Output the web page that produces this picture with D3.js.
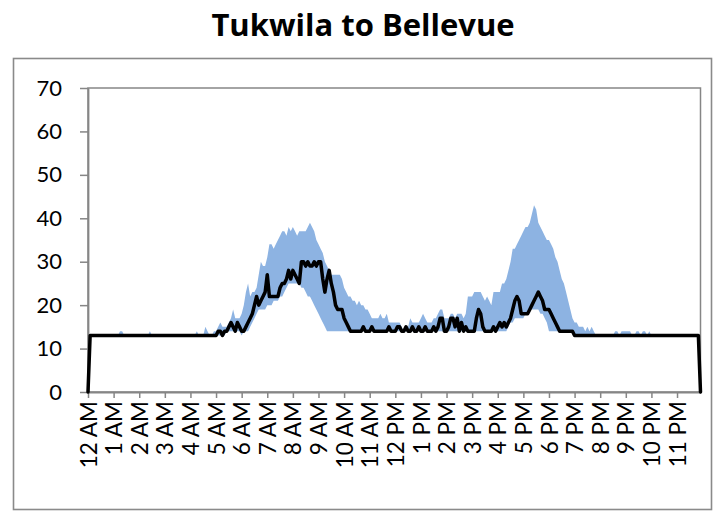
<!DOCTYPE html>
<html>
<head>
<meta charset="utf-8">
<script src="https://cdn.jsdelivr.net/npm/d3@7"></script>
<style>
  html, body { margin: 0; padding: 0; background: #fff; }
  svg { display: block; }
</style>
</head>
<body>
<svg id="chart" width="714" height="512"></svg>
<script>
// Travel time, Tukwila to Bellevue, in 5-minute steps (12 per row = one hour)
const avgTravel = [
  0,13,13,13,13,13,13,13,13,13,13,13,   // 12 AM
  13,13,13,13,13,13,13,13,13,13,13,13,  // 1 AM
  13,13,13,13,13,13,13,13,13,13,13,13,  // 2 AM
  13,13,13,13,13,13,13,13,13,13,13,13,  // 3 AM
  13,13,13,13,13,13,13,13,13,13,13,13,  // 4 AM
  13,14,14,13,14,14,15,16,15,14,16,15,  // 5 AM
  14,14,15,16,17,18,20,22,20,21,22,23,  // 6 AM
  27,22,22,22,22,22,24,25,25,26,28,26,  // 7 AM
  28,27,26,25,30,30,29,30,29,29,30,29,  // 8 AM
  30,30,26,23,26,28,25,23,20,19,19,19,  // 9 AM
  17,16,15,14,14,14,14,14,14,15,14,14,  // 10 AM
  14,15,14,14,14,14,14,14,14,15,14,14,  // 11 AM
  14,15,15,14,14,15,14,14,15,14,14,15,  // 12 PM
  14,14,15,14,14,14,15,14,15,17,17,14,  // 1 PM
  14,15,17,17,15,17,14,16,14,15,14,14,  // 2 PM
  14,14,17,19,18,15,14,14,14,14,15,14,  // 3 PM
  15,16,15,16,15,16,17,19,21,22,21,18,  // 4 PM
  18,18,18,19,20,21,22,23,22,21,19,19,  // 5 PM
  19,18,17,16,15,14,14,14,14,14,14,14,  // 6 PM
  13,13,13,13,13,13,13,13,13,13,13,13,  // 7 PM
  13,13,13,13,13,13,13,13,13,13,13,13,  // 8 PM
  13,13,13,13,13,13,13,13,13,13,13,13,  // 9 PM
  13,13,13,13,13,13,13,13,13,13,13,13,  // 10 PM
  13,13,13,13,13,13,13,13,13,13,13,0    // 11 PM
];

const maxTravel = [
  0,13,13,13,13,13,13,13,13,13,13,13,
  13,13,13,14,14,13,13,13,13,13,13,13,
  13,13,13,13,13,14,13,13,13,13,13,13,
  13,13,13,13,13,13,13,13,13,13,13,13,
  13,13,13,14,13,13,13,15,14,13,13,14,
  14,15,16,15,15,15,16,17,19,17,17,17,
  18,20,23,25,22,23,23,24,27,30,29,29,
  31,34,34,33,34,35,36,37,37,36,38,37,
  38,37,36,37,37,37,37,38,39,38,37,35,
  34,33,32,30,29,28,27,27,27,27,27,26,
  24,23,22,22,21,21,20,21,20,20,19,19,
  18,17,17,17,17,18,17,17,18,16,16,16,
  16,16,16,15,14,15,15,17,16,16,16,16,
  17,18,17,16,16,16,17,17,18,19,19,17,
  17,17,18,18,17,18,18,18,17,18,22,22,
  22,23,23,23,23,22,21,22,21,20,23,23,
  23,23,25,25,26,28,30,33,33,34,35,36,
  37,38,38,39,41,43,42,39,38,37,36,35,
  35,34,33,31,30,28,26,25,23,21,19,17,
  16,16,15,15,15,14,15,14,15,14,13,13,
  13,13,13,13,13,13,13,14,14,13,14,14,
  14,14,14,13,13,14,14,13,14,14,13,14,
  13,13,13,13,13,13,13,13,13,13,13,13,
  13,13,13,13,13,13,13,13,13,13,13,0
];

const minTravel = [
  0,13,13,13,13,13,13,13,13,13,13,13,
  13,13,13,13,13,13,13,13,13,13,13,13,
  13,13,13,13,13,13,13,13,13,13,13,13,
  13,13,13,13,13,13,13,13,13,13,13,13,
  13,13,13,13,13,13,13,13,13,13,13,13,
  13,13,13,13,13,14,14,14,14,14,14,14,
  13,14,14,14,15,16,17,18,19,19,19,19,
  20,20,20,21,21,21,22,22,23,24,25,25,
  25,25,25,25,24,24,23,22,22,21,20,19,
  18,17,16,15,14,14,14,14,14,14,14,14,
  14,14,14,14,14,14,14,14,14,14,14,14,
  14,14,14,14,14,14,14,14,14,14,14,14,
  14,14,14,14,14,14,14,14,14,14,14,14,
  14,14,14,14,14,14,14,14,14,14,14,14,
  14,14,14,14,14,14,14,14,14,14,14,14,
  14,14,14,14,14,14,14,14,14,14,14,14,
  14,14,14,14,14,15,16,16,17,17,17,17,
  17,18,18,19,19,19,19,19,18,18,17,16,
  14,14,14,14,14,14,14,14,14,14,14,14,
  13,13,13,13,13,13,13,13,13,13,13,13,
  13,13,13,13,13,13,13,13,13,13,13,13,
  13,13,13,13,13,13,13,13,13,13,13,13,
  13,13,13,13,13,13,13,13,13,13,13,13,
  13,13,13,13,13,13,13,13,13,13,13,0
];

const hourLabels = [
  "12 AM","1 AM","2 AM","3 AM","4 AM","5 AM","6 AM","7 AM","8 AM","9 AM","10 AM","11 AM",
  "12 PM","1 PM","2 PM","3 PM","4 PM","5 PM","6 PM","7 PM","8 PM","9 PM","10 PM","11 PM"
];
const yTicks = [0, 10, 20, 30, 40, 50, 60, 70];
const chartTitle = "Tukwila to Bellevue";

const svg = d3.select("#chart");
const font = "Lato, 'Open Sans', sans-serif";
const gray = "#868686";

const plot = { left: 88, right: 700.5, top: 88, bottom: 392 };
const stepsPerHour = 12;
const n = avgTravel.length;

const x = d3.scaleLinear().domain([0, n - 1]).range([plot.left, plot.right]);
const y = d3.scaleLinear().domain([0, 70]).range([plot.bottom, plot.top]);

// outer chart frame
svg.append("rect")
  .attr("x", 13.5).attr("y", 58.5)
  .attr("width", 698).attr("height", 451)
  .attr("fill", "#fff")
  .attr("stroke", "#8a8a8a").attr("stroke-width", 1.6);

// title
svg.append("text")
  .attr("x", 363).attr("y", 36)
  .attr("text-anchor", "middle")
  .attr("font-family", "'Open Sans', Lato, sans-serif").attr("font-weight", 700)
  .attr("font-size", 31)
  .attr("fill", "#000")
  .text(chartTitle);

// plot frame (top and right edges)
svg.append("rect")
  .attr("x", plot.left).attr("y", plot.top)
  .attr("width", plot.right - plot.left).attr("height", plot.bottom - plot.top)
  .attr("fill", "none").attr("stroke", gray).attr("stroke-width", 1.5);

// min-max range band
const rows = avgTravel.map((v, i) => ({ i, avg: v, lo: minTravel[i], hi: maxTravel[i] }));
svg.append("path")
  .datum(rows)
  .attr("fill", "#8db3e2")
  .attr("d", d3.area().x(d => x(d.i)).y0(d => y(d.lo)).y1(d => y(d.hi)));

// y axis
const yAxis = svg.append("g")
  .attr("transform", `translate(${plot.left},0)`)
  .call(d3.axisLeft(y).tickValues(yTicks).tickSize(8).tickSizeOuter(0).tickPadding(18));
yAxis.select(".domain").attr("stroke", gray).attr("stroke-width", 1.8);
yAxis.selectAll(".tick line").attr("stroke", gray).attr("stroke-width", 1.5);
yAxis.selectAll(".tick text")
  .attr("font-family", font).attr("font-size", 22).attr("fill", "#000");

// x axis, one tick per hour
const xAxis = svg.append("g")
  .attr("transform", `translate(0,${plot.bottom})`)
  .call(d3.axisBottom(x)
    .tickValues(d3.range(0, n, stepsPerHour))
    .tickFormat((d, k) => hourLabels[k])
    .tickSize(6).tickSizeOuter(0));
xAxis.select(".domain").attr("stroke", gray).attr("stroke-width", 1.8);
xAxis.selectAll(".tick line").attr("stroke", gray).attr("stroke-width", 1.5);
xAxis.selectAll(".tick text")
  .attr("font-family", font).attr("font-size", 22.5).attr("fill", "#000")
  .attr("text-anchor", "end")
  .attr("transform", "rotate(-90)")
  .attr("x", -9).attr("y", 0).attr("dy", "0.36em");

// average travel time line
svg.append("path")
  .datum(rows)
  .attr("fill", "none")
  .attr("stroke", "#000")
  .attr("stroke-width", 3.5)
  .attr("stroke-linejoin", "round")
  .attr("stroke-linecap", "round")
  .attr("d", d3.line().x(d => x(d.i)).y(d => y(d.avg)));
</script>
</body>
</html>
